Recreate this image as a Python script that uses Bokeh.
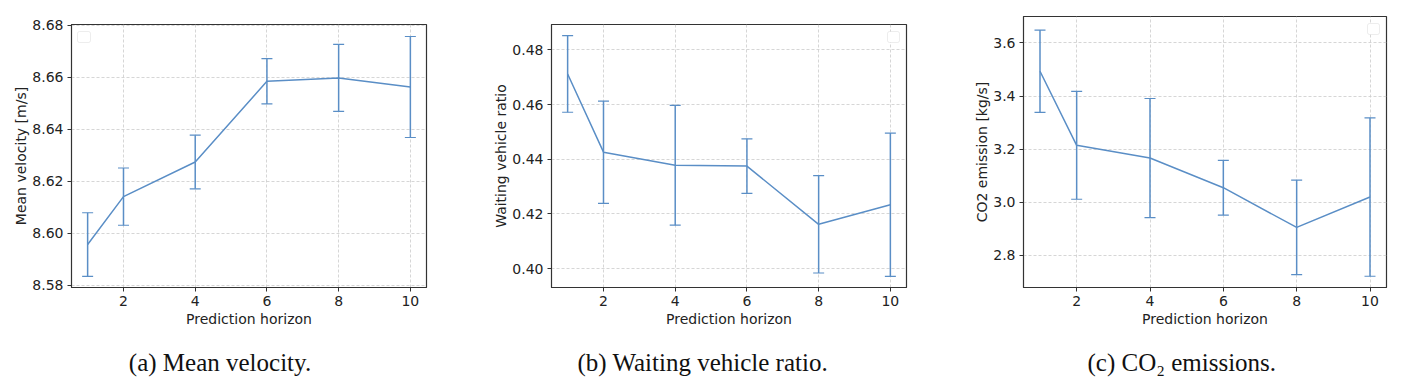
from bokeh.plotting import figure
from bokeh.layouts import row, column
from bokeh.models import (ColumnDataSource, Whisker, TeeHead, BoxAnnotation, Label,
                          FixedTicker, Range1d, PrintfTickFormatter)
from bokeh.embed import file_html
from bokeh.resources import INLINE

# ---------------- data ----------------
horizon = [1, 2, 4, 6, 8, 10]
x_ticks = [2, 4, 6, 8, 10]

velocity_mean = [8.5957, 8.6141, 8.6274, 8.6584, 8.6597, 8.6562]
velocity_std = [0.0122, 0.0110, 0.0103, 0.0087, 0.0129, 0.0194]
velocity_ticks = [8.58, 8.60, 8.62, 8.64, 8.66, 8.68]

waiting_mean = [0.4712, 0.4426, 0.4378, 0.4375, 0.4162, 0.4234]
waiting_std = [0.0140, 0.0187, 0.0219, 0.0100, 0.0178, 0.0262]
waiting_ticks = [0.40, 0.42, 0.44, 0.46, 0.48]

co2_mean = [3.4932, 3.2144, 3.1667, 3.0549, 2.9055, 3.0198]
co2_std = [0.155, 0.203, 0.224, 0.103, 0.178, 0.298]
co2_ticks = [2.8, 3.0, 3.2, 3.4, 3.6]

x_label = "Prediction horizon"
y_labels = ["Mean velocity [m/s]", "Waiting vehicle ratio", "CO2 emission [kg/s]"]
captions = ["(a) Mean velocity.", "(b) Waiting vehicle ratio.", "(c) CO\u2082 emissions."]

LINE = "#5a8ec6"
FRAME = "#333333"
PLOT_H = 344
CAP_H = 40


def make_panel(mean, std, yticks, yfmt, yrange, ylabel,
               width, border_left, border_right, border_top, border_bottom, legend_side):
    p = figure(width=width, height=PLOT_H, output_backend="svg", toolbar_location=None,
               x_range=Range1d(0.55, 10.45), y_range=Range1d(*yrange),
               min_border_left=border_left, min_border_right=border_right,
               min_border_top=border_top, min_border_bottom=border_bottom)
    frame_w = width - border_left - border_right
    frame_h = PLOT_H - border_top - border_bottom
    upper = [m + s for m, s in zip(mean, std)]
    lower = [m - s for m, s in zip(mean, std)]
    src = ColumnDataSource(dict(x=horizon, y=mean, upper=upper, lower=lower))
    p.line("x", "y", source=src, line_color=LINE, line_width=1.5)
    w = Whisker(base="x", upper="upper", lower="lower", source=src, dimension="height",
                line_color=LINE, line_width=1.5,
                upper_head=TeeHead(size=11, line_color=LINE, line_width=1.2),
                lower_head=TeeHead(size=11, line_color=LINE, line_width=1.2))
    p.add_layout(w)

    p.xaxis.ticker = FixedTicker(ticks=x_ticks)
    p.yaxis.ticker = FixedTicker(ticks=yticks)
    p.yaxis.formatter = PrintfTickFormatter(format=yfmt)
    p.xaxis.axis_label = x_label
    p.yaxis.axis_label = ylabel
    for ax in (p.xaxis, p.yaxis):
        ax.axis_label_text_font = "DejaVu Sans"
        ax.axis_label_text_font_style = "normal"
        ax.axis_label_text_font_size = "14px"
        ax.axis_label_text_color = "#222222"
        ax.major_label_text_font = "DejaVu Sans"
        ax.major_label_text_font_size = "14px"
        ax.major_label_text_color = "#222222"
        ax.axis_line_color = FRAME
        ax.major_tick_line_color = FRAME
        ax.major_tick_out = 4
        ax.major_tick_in = 0
        ax.minor_tick_line_color = None
    p.xaxis.axis_label_standoff = 2
    p.yaxis.axis_label_standoff = 0
    p.xaxis.major_label_standoff = 4
    p.yaxis.major_label_standoff = 4

    p.grid.grid_line_color = "#cccccc"
    p.grid.grid_line_dash = "3 2"
    p.grid.grid_line_alpha = 0.8
    p.outline_line_color = FRAME
    p.outline_line_width = 1.2
    p.background_fill_color = "white"
    p.border_fill_color = "white"

    # empty legend box
    if legend_side == "left":
        bl, br = 6, 19
    else:
        bl, br = frame_w - 19, frame_w - 7
    p.add_layout(BoxAnnotation(left=bl, right=br, top=frame_h - 7, bottom=frame_h - 18,
                               left_units="screen", right_units="screen",
                               top_units="screen", bottom_units="screen",
                               fill_color="white", fill_alpha=1.0,
                               line_color="#c4c4c4", line_width=1, border_radius=2))
    return p


def make_caption(text, width, border_left, border_right, center_x):
    c = figure(width=width, height=CAP_H, output_backend="svg", toolbar_location=None,
               x_range=Range1d(0, 1), y_range=Range1d(0, 1),
               x_axis_location=None, y_axis_location=None,
               min_border_left=border_left, min_border_right=border_right,
               min_border_top=0, min_border_bottom=0)
    c.grid.visible = False
    c.outline_line_color = None
    c.background_fill_color = "white"
    c.border_fill_color = "white"
    c.add_layout(Label(x=center_x, y=22, x_units="screen", y_units="screen",
                       text=text, text_align="center", text_baseline="alphabetic",
                       text_font="Liberation Serif", text_font_size="25px",
                       text_color="#111111"))
    return c


pa = make_panel(velocity_mean, velocity_std, velocity_ticks, "%.2f", (8.5792, 8.6802),
                y_labels[0], 475, 71, 49, 24, 57, "left")
pb = make_panel(waiting_mean, waiting_std, waiting_ticks, "%.2f", (0.3931, 0.4893),
                y_labels[1], 470, 76, 39, 24, 57, "right")
pc = make_panel(co2_mean, co2_std, co2_ticks, "%.1f", (2.6794, 3.6992),
                y_labels[2], 451, 78, 10, 16, 57, "right")

ca = make_caption(captions[0], 475, 71, 49, 148.5)
cb = make_caption(captions[1], 470, 76, 39, 151.3)
cc = make_caption(captions[2], 451, 78, 10, 158.3)

layout = row(column(pa, ca), column(pb, cb), column(pc, cc))
open("out.html", "w").write(file_html(layout, INLINE))
